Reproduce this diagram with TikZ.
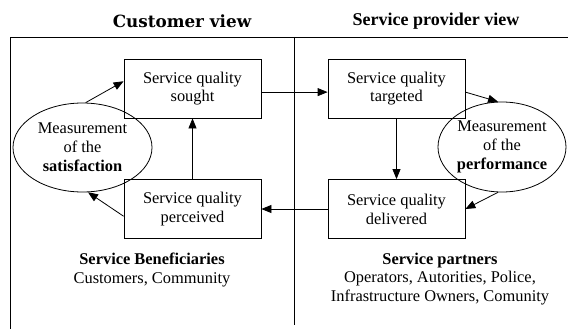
\documentclass[tikz,border=0pt]{standalone}
\usepackage{fontspec}
\setmainfont{Liberation Serif}
\newfontfamily\headfont{DejaVu Serif}
\usetikzlibrary{shapes.geometric,arrows.meta}
\begin{document}
\begin{tikzpicture}[x=1pt,y=-1pt,
  every node/.style={font=\fontsize{16.4}{18.8}\selectfont, align=center},
  qbox/.style={draw, line width=0.8pt, minimum width=137pt, minimum height=59pt, inner sep=0pt},
  meas/.style={draw, ellipse, line width=0.8pt, inner sep=0pt},
  conn/.style={line width=0.8pt, -{Triangle[length=10pt,width=8pt]}},
  frameline/.style={line width=0.9pt},
  lbl/.style={inner sep=0pt}]
\useasboundingbox (0,0) rectangle (568,329);
% frame
\coordinate (fl) at (10,37);
\coordinate (fr) at (568,37);
\coordinate (fbl) at (10,329);
\coordinate (dt) at (294,37);
\coordinate (db) at (294,325);
\draw[frameline] (fbl) -- (fl) -- (fr);
\draw[frameline] (dt) -- (db);
% headers
\node[lbl, font=\headfont\bfseries\fontsize{16.8}{19}\selectfont] (hcust) at (182,21) {Customer view};
\node[lbl, font=\bfseries\fontsize{18}{20}\selectfont] (hprov) at (436,21) {Service provider view};
% boxes
\node[qbox] (sought) at (192.5,88.5) {Service quality\\sought};
\node[qbox] (perc) at (192.5,209) {Service quality\\perceived};
\node[qbox] (targ) at (396.5,88.5) {Service quality\\targeted};
\node[qbox] (deliv) at (396.5,209) {Service quality\\delivered};
% ellipses
\node[meas, minimum width=139pt, minimum height=89pt] (satL) at (82.5,147.5) {Measurement\\of the\\\textbf{satisfaction}};
\node[meas, minimum width=128pt, minimum height=90pt] (perfR) at (502,147) {Measurement\\of the\\\textbf{performance}};
% connectors
\draw[conn] (satL.86) -- (sought.174.6);
\draw[conn] (perc.186.7) -- (satL.277);
\draw[conn] (perc.north) -- (sought.south);
\draw[conn] (sought.-3.8) -- (targ.183.8);
\draw[conn] (targ.south) -- (deliv.north);
\draw[conn] (targ.-3.7) -- (perfR.95);
\draw[conn] (perfR.265) -- (deliv.east);
\draw[conn] (deliv.west) -- (perc.east);
% bottom labels
\node[lbl] (benef) at (152,270) {\textbf{Service Beneficiaries}\\Customers, Community};
\node[lbl] (partn) at (440,279) {\textbf{Service partners}\\Operators, Autorities, Police,\\Infrastructure Owners, Comunity};
\end{tikzpicture}
\end{document}
